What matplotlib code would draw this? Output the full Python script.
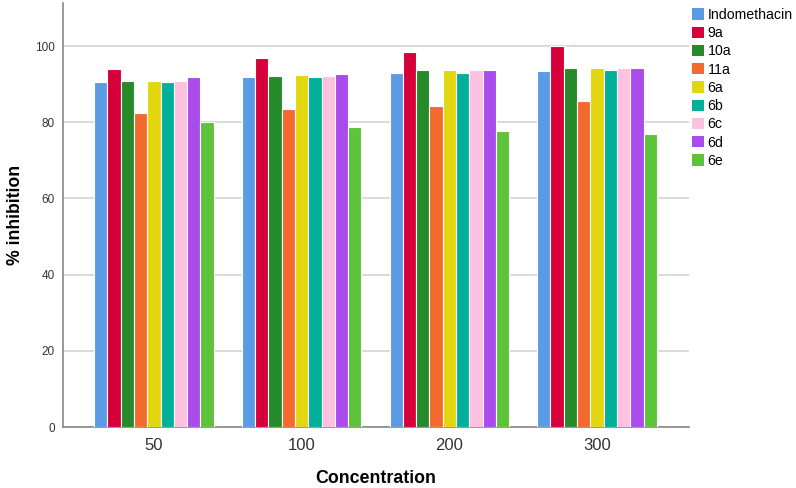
import matplotlib
matplotlib.use("Agg")
import matplotlib.pyplot as plt
import numpy as np
from matplotlib.patches import Patch

plt.rcParams['font.family'] = ['Liberation Sans', 'DejaVu Sans']

concentrations = ["50", "100", "200", "300"]
series_names = ["Indomethacin", "9a", "10a", "11a", "6a", "6b", "6c", "6d", "6e"]
indomethacin = [90.5, 91.9, 92.8, 93.5]
s9a = [94.0, 96.9, 98.5, 100.0]
s10a = [90.9, 92.2, 93.6, 94.3]
s11a = [82.5, 83.6, 84.3, 85.7]
s6a = [90.8, 92.4, 93.6, 94.2]
s6b = [90.6, 91.9, 92.8, 93.8]
s6c = [90.9, 92.2, 93.6, 94.3]
s6d = [91.8, 92.6, 93.6, 94.3]
s6e = [80.0, 78.8, 77.6, 77.0]
values = [indomethacin, s9a, s10a, s11a, s6a, s6b, s6c, s6d, s6e]
colors = ["#5b9be6", "#d6003a", "#268a2b", "#f26a2e", "#e2d70f", "#00b09b",
          "#fcc0e0", "#a94ceb", "#5fc23b"]

fig = plt.figure(figsize=(7.96, 4.88), dpi=100)
ax = fig.add_axes([63/796, 1-427/488, (689-63)/796, (427-3)/488])

x = np.arange(len(concentrations))
pitch = 0.09
n = len(series_names)
for i, (name, vals, c) in enumerate(zip(series_names, values, colors)):
    ax.bar(x + (i - (n-1)/2) * pitch, vals, width=pitch, color=c,
           edgecolor='white', linewidth=0.8, label=name, zorder=3)

ax.set_xlim(-0.616, 3.623)
ax.set_ylim(0, 111.3)
ax.set_yticks([0, 20, 40, 60, 80, 100])
ax.set_xticks(x)
ax.set_xticklabels(concentrations)
ax.yaxis.grid(True, color='#d4d4d4', linewidth=1.2, zorder=0)
ax.set_axisbelow(True)
for s in ['top', 'right']:
    ax.spines[s].set_visible(False)
for s in ['left', 'bottom']:
    ax.spines[s].set_color('#888888')
    ax.spines[s].set_linewidth(1.2)
ax.tick_params(axis='both', length=0, colors='#333333')
ax.tick_params(axis='x', labelsize=12, pad=8)
ax.tick_params(axis='y', labelsize=8.5, pad=6)
ax.set_ylabel("% inhibition", fontsize=12.7, fontweight='bold', labelpad=8)
ax.set_xlabel("Concentration", fontsize=12.8, fontweight='bold', labelpad=12)

handles = [Patch(facecolor=c, edgecolor='none') for c in colors]
fig.legend(handles, series_names, loc='upper left', bbox_to_anchor=(689/796, 1-5/488),
           frameon=False, fontsize=10.2, handlelength=0.85, handleheight=0.85,
           handletextpad=0.25, labelspacing=0.3, borderaxespad=0, borderpad=0.2)

fig.savefig("out.png", dpi=100)
